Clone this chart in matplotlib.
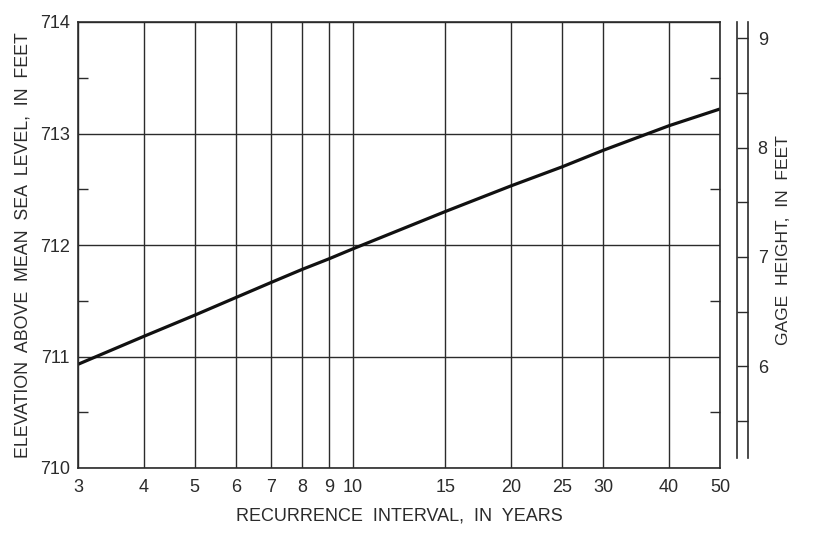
import matplotlib.pyplot as plt
import numpy as np
from matplotlib.ticker import FixedLocator, NullFormatter, MultipleLocator

plt.rcParams['font.family'] = ['Liberation Sans', 'DejaVu Sans']

# data
recurrence = [3, 4, 5, 6, 7, 8, 9, 10, 15, 20, 25, 30, 40, 50]
elevation = [710.93, 711.18, 711.37, 711.53, 711.665, 711.78, 711.875, 711.965,
             712.30, 712.53, 712.70, 712.85, 713.07, 713.22]
x_ticks = [3, 4, 5, 6, 7, 8, 9, 10, 15, 20, 25, 30, 40, 50]
y_ticks = [710, 711, 712, 713, 714]
gage_ticks = [6, 7, 8, 9]

ink = '#2b2b2b'
W, H = 826, 534
fig = plt.figure(figsize=(W / 100, H / 100), dpi=100)
fig.patch.set_facecolor('white')

# main plot, pixel box 78..720 x 22..468
ax = fig.add_axes([78 / W, 1 - 468 / H, (720 - 78) / W, (468 - 22) / H])
ax.set_xscale('log')
ax.set_xlim(3, 50)
ax.set_ylim(710, 714)
ax.plot(recurrence, elevation, color='#111111', linewidth=2.3, solid_capstyle='butt')

ax.xaxis.set_major_locator(FixedLocator(x_ticks))
ax.xaxis.set_minor_locator(FixedLocator([]))
ax.set_xticklabels([str(t) for t in x_ticks])
ax.xaxis.set_minor_formatter(NullFormatter())
ax.yaxis.set_major_locator(FixedLocator(y_ticks))
ax.yaxis.set_minor_locator(MultipleLocator(0.5))
ax.grid(True, which='major', color=ink, linewidth=1.0)
ax.tick_params(axis='x', which='major', length=0, pad=8, labelsize=13, colors=ink)
ax.tick_params(axis='y', which='major', length=0, pad=6, labelsize=13, colors=ink)
ax.tick_params(axis='y', which='minor', direction='in', length=7.5, width=1.0,
               left=True, right=True, color=ink)
for s in ax.spines.values():
    s.set_color(ink)
    s.set_linewidth(1.2)

ax.set_xlabel('RECURRENCE  INTERVAL,  IN  YEARS', fontsize=13, color=ink, labelpad=8)
ax.set_ylabel('ELEVATION  ABOVE  MEAN  SEA  LEVEL,  IN  FEET', fontsize=12.8,
              color=ink, labelpad=6)

# gage height scale, pixel box 737..748 x 22..458
gax = fig.add_axes([737 / W, 1 - 458 / H, 11 / W, (458 - 22) / H])
gax.set_ylim(5.16, 9.15)
gax.set_xticks([])
for k in ['top', 'bottom']:
    gax.spines[k].set_visible(False)
for k in ['left', 'right']:
    gax.spines[k].set_color(ink)
    gax.spines[k].set_linewidth(1.2)
gax.yaxis.set_major_locator(FixedLocator(gage_ticks))
gax.yaxis.set_minor_locator(MultipleLocator(0.5))
gax.yaxis.tick_right()
gax.tick_params(axis='y', which='both', direction='in', length=8, width=1.0,
                color=ink, labelsize=13, labelcolor=ink, pad=7)
gax.yaxis.set_label_position('right')
gax.set_ylabel('GAGE  HEIGHT,  IN  FEET', fontsize=12.6, color=ink, labelpad=6)

fig.savefig('out.png', dpi=100)
